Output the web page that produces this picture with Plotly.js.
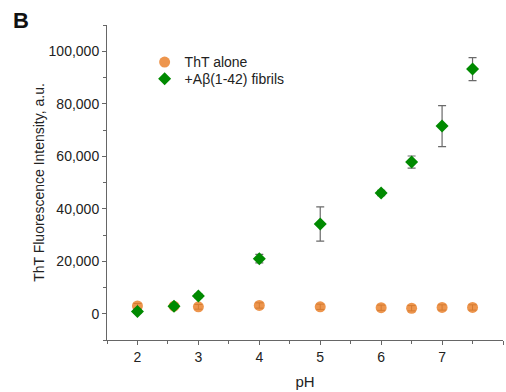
<!DOCTYPE html>
<html>
<head>
<meta charset="utf-8">
<script src="https://cdn.plot.ly/plotly-3.0.1.min.js"></script>
<style>html,body{margin:0;padding:0;background:#fff;}#chart{width:506px;height:392px;}</style>
</head>
<body>
<div id="chart"></div>
<script>
const phAlone = [2, 2.6, 3, 4, 5, 6, 6.5, 7, 7.5];
const thtAlone = [3000, 2900, 2650, 3150, 2650, 2300, 2100, 2400, 2400];
const thtAloneErr = [900, 900, 900, 1000, 1000, 1000, 1000, 1000, 1000];
const phFibrils = [2, 2.6, 3, 4, 5, 6, 6.5, 7, 7.5];
const fibrils = [900, 2900, 6800, 21000, 34200, 46000, 57800, 71500, 93200];
const fibrilsErr = [800, 800, 800, 1600, 6500, 1000, 2300, 7800, 4400];
const yTicks = [0, 20000, 40000, 60000, 80000, 100000];
const yTickText = ['0', '20,000', '40,000', '60,000', '80,000', '100,000'];
const xTicks = [2, 3, 4, 5, 6, 7, 8];

const FONT = 'Liberation Sans, Arial, sans-serif';

const data = [
  {
    x: phAlone, y: thtAlone, type: 'scatter', mode: 'markers', name: 'ThT alone', legend: 'legend',
    marker: {symbol: 'circle', size: 11, color: 'rgba(234,134,52,0.88)'},
    error_y: {type: 'data', array: thtAloneErr, visible: true, color: '#3a2a1a', thickness: 1, width: 4}
  },
  {
    x: phFibrils, y: fibrils, type: 'scatter', mode: 'markers', name: '+A\u03b2(1-42) fibrils', legend: 'legend2',
    marker: {symbol: 'diamond', size: 10, color: '#008a00'},
    error_y: {type: 'data', array: fibrilsErr, visible: true, color: '#6a6a6a', thickness: 1.2, width: 4}
  }
];

const legendBase = {xanchor: 'left', yanchor: 'top', bgcolor: 'rgba(0,0,0,0)', font: {size: 14, color: '#222', family: FONT}};

const layout = {
  width: 506, height: 392,
  margin: {l: 107, r: 3, t: 25, b: 52},
  paper_bgcolor: '#fff', plot_bgcolor: '#fff',
  font: {family: FONT, size: 14, color: '#222'},
  showlegend: true,
  legend: Object.assign({x: 0.095, y: 0.932}, legendBase),
  legend2: Object.assign({x: 0.095, y: 0.879}, legendBase),
  xaxis: {
    range: [1.5, 8], tickvals: xTicks, ticks: 'outside', ticklen: 4, tickcolor: '#666',
    showline: true, linecolor: '#666', linewidth: 1, showgrid: false, zeroline: false,
    minor: {dtick: 0.5, ticks: 'outside', ticklen: 3, tickcolor: '#666'},
    tickfont: {size: 14, color: '#222'},
    title: {text: 'pH', font: {size: 15, color: '#222'}, standoff: 12}
  },
  yaxis: {
    range: [-10000, 110000], tickvals: yTicks, ticktext: yTickText, ticks: 'outside', ticklen: 4, tickcolor: '#666',
    showline: true, linecolor: '#666', linewidth: 1, showgrid: false, zeroline: false,
    minor: {dtick: 10000, ticks: 'outside', ticklen: 3, tickcolor: '#666'},
    tickfont: {size: 14, color: '#222'},
    title: {text: 'ThT Fluorescence Intensity, a.u.', font: {size: 14, color: '#222'}, standoff: 0}
  },
  annotations: [
    {text: '<b>B</b>', xref: 'paper', yref: 'paper', x: -0.2424, y: 1.0127, xanchor: 'left', yanchor: 'middle',
     showarrow: false, font: {size: 22, color: '#111', family: FONT}}
  ]
};

Plotly.newPlot('chart', data, layout, {displayModeBar: false});
</script>
</body>
</html>
